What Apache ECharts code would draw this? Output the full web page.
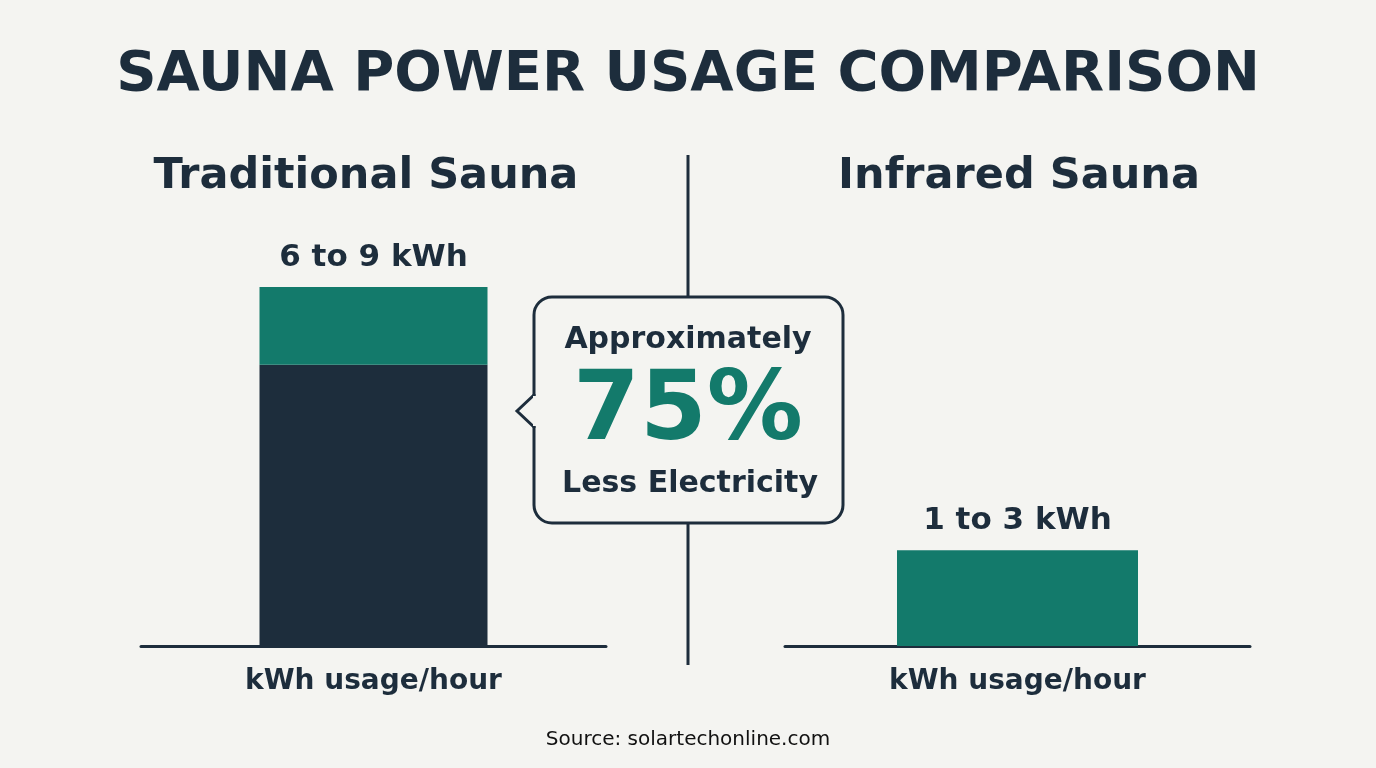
<!DOCTYPE html>
<html><head><meta charset="utf-8">
<script src="https://cdn.jsdelivr.net/npm/echarts@6/dist/echarts.min.js"></script>
<style>html,body{margin:0;background:#f4f4f1}#c{width:1376px;height:768px}</style></head>
<body><div id="c"></div>
<script>
const panels = ['Traditional Sauna', 'Infrared Sauna'];
const rangeLabels = ['6 to 9 kWh', '1 to 3 kWh'];
const tradBase = [7.05];   // dark segment as drawn
const tradRange = [1.95];  // teal segment on top
const infraredVals = [2.4];
const axisName = 'kWh usage/hour';
const DARK = '#1d2d3c', TEAL = '#137a6b', BG = '#f4f4f1';
const F = '"DejaVu Sans", sans-serif';
const chart = echarts.init(document.getElementById('c'));
const ax = i => ({type:'category', gridIndex:i, data:[axisName],
  axisLine:{lineStyle:{color:DARK,width:3}}, axisTick:{show:false},
  axisLabel:{show:true, color:DARK, fontSize:28, fontWeight:'bold', fontFamily:F, margin:22}});
const ay = i => ({type:'value', gridIndex:i, min:0, max:9, show:false});
const lbl = t => ({show:true, position:'top', formatter:t, color:DARK, fontSize:31, fontWeight:'bold', fontFamily:F, distance:14});
chart.setOption({
  backgroundColor: BG,
  grid:[{left:141, width:465, top:287, bottom:122},{left:785, width:465, top:287, bottom:122}],
  xAxis:[ax(0), ax(1)], yAxis:[ay(0), ay(1)],
  series:[
    {type:'bar', stack:'t', xAxisIndex:0, yAxisIndex:0, data:tradBase, barWidth:228, itemStyle:{color:DARK}},
    {type:'bar', stack:'t', xAxisIndex:0, yAxisIndex:0, data:tradRange, barWidth:228, itemStyle:{color:TEAL}, label:lbl(rangeLabels[0])},
    {type:'bar', xAxisIndex:1, yAxisIndex:1, data:infraredVals, barWidth:241, itemStyle:{color:TEAL}, label:lbl(rangeLabels[1])}
  ],
  graphic:[
    {type:'text', x:688, y:75, style:{text:'SAUNA POWER USAGE COMPARISON', fill:DARK, font:'bold 56px '+F, align:'center', verticalAlign:'middle'}},
    {type:'text', x:366, y:177, style:{text:panels[0], fill:DARK, font:'bold 43px '+F, align:'center', verticalAlign:'middle'}},
    {type:'text', x:1019, y:177, style:{text:panels[1], fill:DARK, font:'bold 43px '+F, align:'center', verticalAlign:'middle'}},
    {type:'line', shape:{x1:688,y1:155,x2:688,y2:665}, style:{stroke:DARK, lineWidth:3}},
    {type:'rect', shape:{x:534,y:297,width:309,height:226,r:18}, style:{fill:BG, stroke:DARK, lineWidth:3}, z:10},
    {type:'polyline', shape:{points:[[535,394],[517,411],[535,428]]}, style:{fill:BG, stroke:DARK, lineWidth:3}, z:11},
    {type:'rect', shape:{x:533,y:396,width:6,height:30}, style:{fill:BG}, z:12},
    {type:'text', x:688, y:340, z:13, style:{text:'Approximately', fill:DARK, font:'bold 30px '+F, align:'center', verticalAlign:'middle'}},
    {type:'text', x:688, y:414, z:13, style:{text:'75%', fill:TEAL, font:'bold 96px '+F, align:'center', verticalAlign:'middle'}},
    {type:'text', x:690, y:484, z:13, style:{text:'Less Electricity', fill:DARK, font:'bold 30px '+F, align:'center', verticalAlign:'middle'}},
    {type:'text', x:688, y:740, style:{text:'Source: solartechonline.com', fill:'#111', font:'20px '+F, align:'center', verticalAlign:'middle'}}
  ]
});
</script></body></html>
